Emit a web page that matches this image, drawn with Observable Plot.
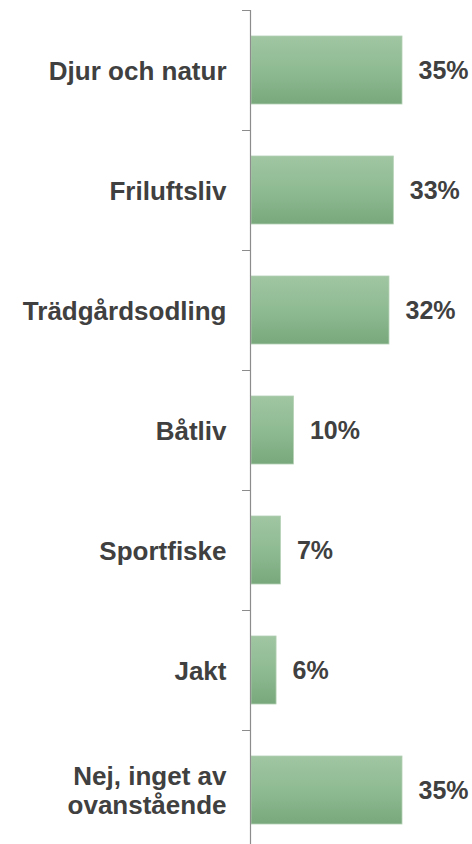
<!DOCTYPE html>
<html>
<head>
<meta charset="utf-8">
<script src="https://cdn.jsdelivr.net/npm/d3@7"></script>
<script src="https://cdn.jsdelivr.net/npm/@observablehq/plot@0.6"></script>
<style>
  html, body { margin: 0; padding: 0; background: #fff; overflow: hidden; }
  #chart { width: 472px; height: 844px; }
</style>
</head>
<body>
<div id="chart"></div>
<script>
const categories = [
  "Djur och natur",
  "Friluftsliv",
  "Trädgårdsodling",
  "Båtliv",
  "Sportfiske",
  "Jakt",
  "Nej, inget av\novanstående"
];
const values = [35, 33, 32, 10, 7, 6, 35];
const valueLabels = ["35%", "33%", "32%", "10%", "7%", "6%", "35%"];

const data = categories.map((c, i) => ({category: c, value: values[i], label: valueLabels[i]}));

const font = "'Liberation Sans', Arial, Helvetica, sans-serif";
const textColor = "#404040";
const axisColor = "#8c8c8c";

const plot = Plot.plot({
  width: 472,
  height: 844,
  marginLeft: 250,
  marginRight: 70,
  marginTop: 10,
  marginBottom: 0,
  style: {fontFamily: font, background: "#fff", overflow: "hidden"},
  x: {domain: [0, 35], axis: null},
  y: {domain: categories, range: [10, 850], paddingInner: 0.43, paddingOuter: 0.215, axis: null},
  marks: [
    Plot.barX(data, {
      y: "category",
      x: "value",
      fill: "url(#barGrad)",
      stroke: "#b3d0b4",
      strokeWidth: 0.8,
      insetLeft: 1
    }),
    Plot.axisY({
      tickSize: 8,
      tickFormat: () => "",
      label: null,
      dy: -60,
      stroke: axisColor,
      strokeWidth: 1
    }),
    Plot.axisY({
      tickSize: 0,
      tickPadding: 24,
      label: null,
      fontSize: 26,
      fontWeight: "bold",
      fill: textColor,
      lineHeight: 1.1,
      lineWidth: 20
    }),
    Plot.ruleX([0], {stroke: axisColor, strokeWidth: 1.2}),
    Plot.text(data, {
      y: "category",
      x: "value",
      text: "label",
      dx: 16,
      textAnchor: "start",
      fontSize: 25,
      fontWeight: "bold",
      fill: textColor
    })
  ]
});

const ns = "http://www.w3.org/2000/svg";
const defs = document.createElementNS(ns, "defs");
const grad = document.createElementNS(ns, "linearGradient");
grad.setAttribute("id", "barGrad");
grad.setAttribute("x1", "0"); grad.setAttribute("y1", "0");
grad.setAttribute("x2", "0"); grad.setAttribute("y2", "1");
[["0%", "#a0c6a2"], ["50%", "#8fbb92"], ["100%", "#79a87c"]].forEach(([o, c]) => {
  const s = document.createElementNS(ns, "stop");
  s.setAttribute("offset", o);
  s.setAttribute("stop-color", c);
  grad.appendChild(s);
});
defs.appendChild(grad);
plot.insertBefore(defs, plot.firstChild);

document.getElementById("chart").appendChild(plot);
</script>
</body>
</html>
